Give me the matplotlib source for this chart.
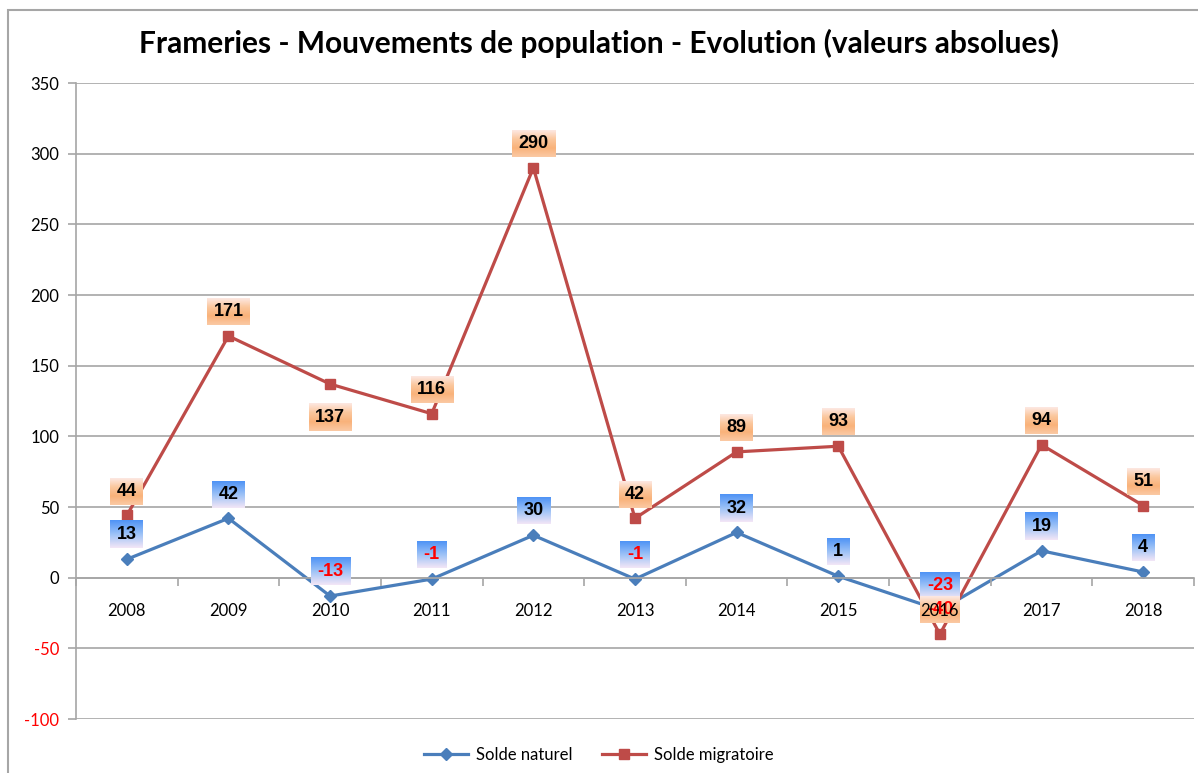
import numpy as np
import matplotlib.pyplot as plt
from matplotlib.patches import Rectangle
from matplotlib.colors import LinearSegmentedColormap

# données
annees = ['2008', '2009', '2010', '2011', '2012', '2013', '2014', '2015', '2016', '2017', '2018']
solde_naturel = [13, 42, -13, -1, 30, -1, 32, 1, -23, 19, 4]
solde_migratoire = [44, 171, 137, 116, 290, 42, 89, 93, -40, 94, 51]
titre = "Frameries - Mouvements de population - Evolution (valeurs absolues)"

W, H = 1198, 773
BLEU = '#4a7ebb'
ROUGE = '#be4b48'
GRIS = '#a6a6a6'

plt.rcParams['font.family'] = ['Lato', 'DejaVu Sans']
plt.rcParams['axes.unicode_minus'] = False

fig = plt.figure(figsize=(W / 100, H / 100), dpi=100)
ax = fig.add_axes([76 / W, 1 - 719 / H, (1194 - 76) / W, (719 - 83) / H])

x = np.arange(len(annees))
ax.plot(x, solde_naturel, color=BLEU, lw=2.3, marker='D', ms=6, zorder=2, label='Solde naturel')
ax.plot(x, solde_migratoire, color=ROUGE, lw=2.3, marker='s', ms=6.5, zorder=2, label='Solde migratoire')

ax.set_xlim(-0.5, len(annees) - 0.5)
ax.set_ylim(-100, 350)
ax.set_yticks(range(-100, 351, 50))
ax.yaxis.grid(True, color=GRIS, lw=1.2)
ax.set_axisbelow(True)

for s in ['top', 'right']:
    ax.spines[s].set_visible(False)
ax.spines['left'].set_color(GRIS)
ax.spines['left'].set_linewidth(1.2)
ax.spines['bottom'].set_position(('data', 0))
ax.spines['bottom'].set_color(GRIS)
ax.spines['bottom'].set_linewidth(1.2)

ax.tick_params(axis='y', length=6, color=GRIS, width=1.2, labelsize=12, pad=6)
ax.set_xticks(x)
ax.set_xticklabels(annees)
ax.set_xticks(np.arange(-0.5, len(annees), 1), minor=True)
ax.tick_params(axis='x', which='major', length=0, labelsize=12, pad=18)
ax.tick_params(axis='x', which='minor', length=6, color=GRIS, width=1.2)
ax.xaxis.set_zorder(5)

fig.canvas.draw()
for lab, v in zip(ax.get_yticklabels(), ax.get_yticks()):
    lab.set_color('red' if v < 0 else 'black')

fig.text(0.5, 1 - 43 / H, titre, ha='center', va='center', fontsize=21.5, fontweight='bold')

# étiquettes de données
textes = []
for i, v in enumerate(solde_naturel):
    t = ax.annotate(str(v), (i, v), xytext=(0, 17.5), textcoords='offset points',
                    ha='center', va='center', fontsize=13, fontweight='bold',
                    family=['Liberation Sans'], color='red' if v < 0 else 'black', zorder=4)
    textes.append((t, 'bleu'))
for i, v in enumerate(solde_migratoire):
    dy = -24 if annees[i] == '2010' else 17.5
    t = ax.annotate(str(v), (i, v), xytext=(0, dy), textcoords='offset points',
                    ha='center', va='center', fontsize=13, fontweight='bold',
                    family=['Liberation Sans'], color='red' if v < 0 else 'black', zorder=4)
    textes.append((t, 'orange'))

cmap_bleu = LinearSegmentedColormap.from_list('b', ['#4f93f5', '#9cc2f7', '#f3e6f6'])
cmap_orange = LinearSegmentedColormap.from_list('o', ['#fde8e2', '#fbc79d', '#f9b27a', '#fbc9a4'])
grad = np.linspace(0, 1, 64).reshape(-1, 1)

fig.canvas.draw()
inv = ax.transData.inverted()
for t, kind in textes:
    bb = t.get_window_extent()
    cx = (bb.x0 + bb.x1) / 2
    cy = (bb.y0 + bb.y1) / 2
    w = bb.width + 13
    h = 27
    (x0, y0) = inv.transform((cx - w / 2, cy - h / 2))
    (x1, y1) = inv.transform((cx + w / 2, cy + h / 2))
    cmap = cmap_bleu if kind == 'bleu' else cmap_orange
    ax.imshow(grad, cmap=cmap, extent=(x0, x1, y0, y1), origin='upper',
              aspect='auto', zorder=3, interpolation='bilinear')

ax.set_xlim(-0.5, len(annees) - 0.5)
ax.set_ylim(-100, 350)

fig.legend(loc='lower center', bbox_to_anchor=(0.5, -0.006), ncol=2, frameon=False,
           fontsize=12, handlelength=2.6, handletextpad=0.5, columnspacing=1.8)

fig.patches.append(Rectangle((8 / W, -0.02), 1.0, 1 - 10 / H + 0.02, transform=fig.transFigure,
                             fill=False, edgecolor=GRIS, lw=1.5))

fig.savefig('out.png', dpi=100)
